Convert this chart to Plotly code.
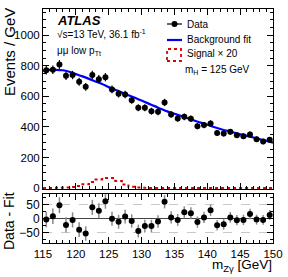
import numpy as np
import plotly.graph_objects as go

# ---------------- data ----------------
bin_edges = list(range(115, 151))
bin_centers = [115.5 + i for i in range(35)]
data_counts = [770, 773, 808, 734, 739, 695, 662, 739, 712, 725,
               645, 617, 612, 575, 525, 525, 503, 499, 560, 482,
               455, 466, 454, 405, 412, 423, 361, 357, 368, 346,
               340, 351, 320, 305, 316]
residuals = [-4, 8, 48, -23, -5, -40, -54, 40, 28, 62,
             -1, -12, 7, -9, -45, -27, -27, -11, 60, 4,
             -5, 22, 19, -13, 4, 30, -24, -21, 4, -6,
             -5, 16, -4, -5, 13]
signal_x20 = [2, 2, 3, 4, 8, 15, 26, 41, 57, 67,
              67, 48, 24, 9, 4, 3, 2, 2, 2, 2,
              2, 2, 2, 2, 2, 2, 2, 2, 2, 2,
              2, 2, 2, 2, 2]
fit_mass = list(range(115, 151))
fit_values = [768, 772, 773, 770, 760, 745, 730, 714, 697, 680,
              660, 643, 625, 607, 590, 572, 554, 536, 517, 500,
              486, 472, 457, 442, 428, 414, 400, 387, 375, 364,
              352, 342, 331, 320, 309, 298]
x_ticks = [115, 120, 125, 130, 135, 140, 145, 150]
y_ticks_main = [0, 200, 400, 600, 800, 1000]
y_ticks_res = [-50, 0, 50]

FONT = "Liberation Sans, Arial, Helvetica, sans-serif"
errs = np.sqrt(np.array(data_counts, dtype=float))

fig = go.Figure()

# signal x20 (dotted red histogram)
fig.add_trace(go.Scatter(
    x=bin_edges, y=signal_x20 + [signal_x20[-1]], mode="lines",
    line=dict(color="#dd0000", width=2, dash="dot", shape="hv"),
    xaxis="x", yaxis="y", showlegend=False, hoverinfo="skip"))

# background fit
fig.add_trace(go.Scatter(
    x=fit_mass, y=fit_values, mode="lines",
    line=dict(color="#0000ff", width=2.2, shape="spline"),
    xaxis="x", yaxis="y", showlegend=False))

# data
fig.add_trace(go.Scatter(
    x=bin_centers, y=data_counts, mode="markers",
    marker=dict(color="black", size=6),
    error_y=dict(type="data", array=errs, color="black", thickness=1.2, width=0),
    xaxis="x", yaxis="y", showlegend=False))

# residuals
fig.add_trace(go.Scatter(
    x=bin_centers, y=residuals, mode="markers",
    marker=dict(color="black", size=6),
    error_y=dict(type="data", array=errs, color="#8a8a8a", thickness=1.5, width=0),
    xaxis="x2", yaxis="y2", showlegend=False))

L, R, T, B = 43, 15, 9, 34
W, H = 288, 277
PW, PH = W - L - R, H - T - B


def px(x):
    return (x - L) / PW


def py(y):
    return (H - B - y) / PH


axis_common = dict(showline=True, linecolor="black", linewidth=1, mirror="allticks",
                   ticks="inside", tickcolor="black", ticklen=6, showgrid=False,
                   zeroline=False, tickfont=dict(family=FONT, size=12, color="black"))

fig.update_layout(
    width=W, height=H,
    margin=dict(l=L, r=R, t=T, b=B, autoexpand=False),
    paper_bgcolor="white", plot_bgcolor="white",
    font=dict(family=FONT, color="black"),
    xaxis=dict(axis_common, domain=[0, 1], range=[115, 150], tickvals=x_ticks,
               showticklabels=False, anchor="y", matches="x2",
               minor=dict(dtick=1, tick0=115, ticklen=3, ticks="inside", tickcolor="black")),
    yaxis=dict(axis_common, domain=[py(189), 1], range=[-5, 1170], tickvals=y_ticks_main,
               anchor="x", tickfont=dict(family=FONT, size=11.5, color="black"),
               minor=dict(dtick=50, tick0=0, ticklen=3, ticks="inside", tickcolor="black")),
    xaxis2=dict(axis_common, domain=[0, 1], range=[115, 150], tickvals=x_ticks,
                anchor="y2", tickfont=dict(family=FONT, size=11.5, color="black"),
                minor=dict(dtick=1, tick0=115, ticklen=3, ticks="inside", tickcolor="black")),
    yaxis2=dict(axis_common, domain=[0, py(194)], range=[-88, 88], tickvals=y_ticks_res,
                anchor="x2", showgrid=True, gridcolor="#c8c8c8", griddash="dash", gridwidth=1,
                zeroline=True, zerolinecolor="#444444", zerolinewidth=1,
                minor=dict(dtick=25, tick0=0, ticklen=3, ticks="inside", tickcolor="black")),
)

ann = []
ann.append(dict(text="<b><i>ATLAS</i></b>", x=px(55), y=py(20), xref="paper", yref="paper",
                xanchor="left", yanchor="middle", showarrow=False,
                font=dict(family=FONT, size=13, color="black")))
ann.append(dict(text="√s=13 TeV, 36.1 fb<sup>-1</sup>", x=px(55), y=py(34), xref="paper",
                yref="paper", xanchor="left", yanchor="middle", showarrow=False,
                font=dict(family=FONT, size=10, color="black")))
ann.append(dict(text="μμ low p<sub>Tt</sub>", x=px(55), y=py(51), xref="paper",
                yref="paper", xanchor="left", yanchor="middle", showarrow=False,
                font=dict(family=FONT, size=10, color="black")))
for txt, yy, xx in [("Data", 24, 185), ("Background fit", 40, 185),
                    ("Signal × 20", 54, 185), ("m<sub>H</sub> = 125 GeV", 70, 183)]:
    ann.append(dict(text=txt, x=px(xx), y=py(yy), xref="paper", yref="paper",
                    xanchor="left", yanchor="middle", showarrow=False,
                    font=dict(family=FONT, size=10, color="black")))
ann.append(dict(text="Events / GeV", x=px(9), y=py(52), xref="paper", yref="paper",
                textangle=-90, xanchor="center", yanchor="middle", showarrow=False,
                font=dict(family=FONT, size=15, color="black")))
ann.append(dict(text="Data - Fit", x=px(9), y=py(221), xref="paper", yref="paper",
                textangle=-90, xanchor="center", yanchor="middle", showarrow=False,
                font=dict(family=FONT, size=14, color="black")))
ann.append(dict(text="m<sub>Zγ</sub> [GeV]", x=px(274), y=py(276), xref="paper", yref="paper",
                xanchor="right", yanchor="bottom", showarrow=False,
                font=dict(family=FONT, size=13.5, color="black")))
fig.update_layout(annotations=ann)

shapes = []
shapes.append(dict(type="line", xref="paper", yref="paper", x0=px(167), x1=px(182),
                   y0=py(24), y1=py(24), line=dict(color="black", width=1.2)))
shapes.append(dict(type="circle", xref="paper", yref="paper", x0=px(171.5), x1=px(177.5),
                   y0=py(27), y1=py(21), fillcolor="black", line=dict(color="black", width=0)))
shapes.append(dict(type="line", xref="paper", yref="paper", x0=px(167), x1=px(182),
                   y0=py(40), y1=py(40), line=dict(color="#0000ff", width=2.2)))
shapes.append(dict(type="rect", xref="paper", yref="paper", x0=px(167), x1=px(181),
                   y0=py(61), y1=py(49), line=dict(color="#dd0000", width=1.8, dash="dot")))
fig.update_layout(shapes=shapes)

fig.write_html("out.html", config={"displayModeBar": False},
               post_script="document.body.style.margin='0px';document.body.style.padding='0px';document.body.style.overflow='hidden';")
